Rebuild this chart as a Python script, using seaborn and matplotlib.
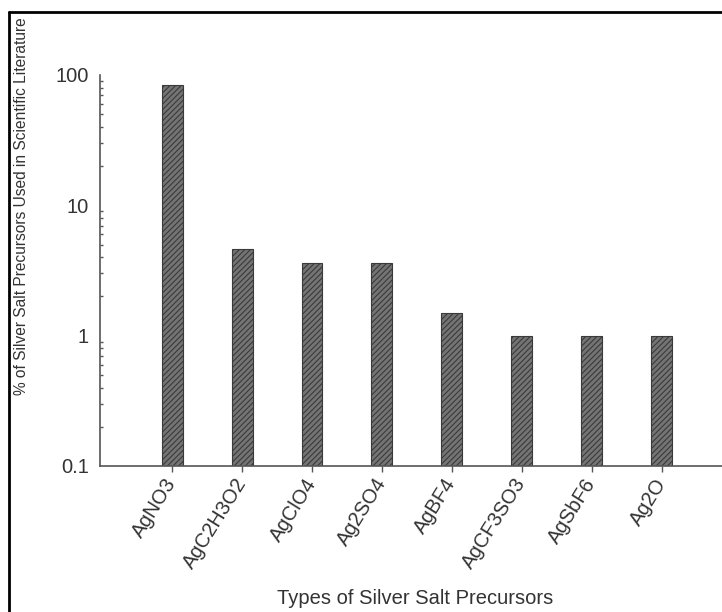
import matplotlib
matplotlib.use("Agg")
import matplotlib.pyplot as plt
import seaborn as sns
import pandas as pd
from matplotlib.lines import Line2D
from matplotlib.ticker import LogLocator, NullFormatter

precursors = ["AgNO3", "AgC2H3O2", "AgClO4", "Ag2SO4", "AgBF4", "AgCF3SO3", "AgSbF6", "Ag2O"]
percent_used = [84.0, 4.6, 3.6, 3.6, 1.5, 1.0, 1.0, 1.0]
y_ticks = [0.1, 1, 10, 100]
y_tick_labels = ["0.1", "1", "10", "100"]

sns.set_theme(style="white")
plt.rcParams["font.family"] = ["Liberation Sans", "DejaVu Sans"]
plt.rcParams["hatch.color"] = "#3a3a3a"
plt.rcParams["hatch.linewidth"] = 0.8

df = pd.DataFrame({"precursor": precursors, "percent": percent_used})

fig = plt.figure(figsize=(7.22, 6.12), dpi=100)
ax = fig.add_axes([100 / 722, 1 - 466 / 612, 1 - 100 / 722, (466 - 75) / 612])

sns.barplot(data=df, x="precursor", y="percent", ax=ax, color="#747474",
            width=0.3, edgecolor="#3a3a3a", linewidth=0.8, saturation=1)
for patch in ax.patches:
    patch.set_hatch("//////")

ax.set_yscale("log")
ax.set_ylim(0.1, 100)
ax.set_xlim(-1.03, 7.86)
ax.set_yticks(y_ticks)
ax.set_yticklabels(y_tick_labels)
ax.yaxis.set_minor_locator(LogLocator(base=10, subs=range(2, 10)))
ax.yaxis.set_minor_formatter(NullFormatter())

text_color = "#333333"
label_size = 14.5
ax.tick_params(axis="y", which="major", direction="out", length=5, width=1,
               color="#555555", labelsize=label_size, labelcolor=text_color, pad=3)
ax.tick_params(axis="y", which="minor", direction="in", length=2.5, width=1,
               color="#555555", left=True)
ax.tick_params(axis="x", which="major", direction="out", length=4, width=1,
               color="#555555", bottom=True, labelsize=label_size,
               labelcolor=text_color, pad=6)
plt.setp(ax.get_xticklabels(), rotation=58, ha="right", va="center",
         rotation_mode="anchor")

for side in ("top", "right"):
    ax.spines[side].set_visible(False)
for side in ("left", "bottom"):
    ax.spines[side].set_color("#555555")
    ax.spines[side].set_linewidth(1.2)

ax.set_xlabel("")
ax.set_ylabel("")
fig.text(415 / 722, 1 - 598 / 612, "Types of Silver Salt Precursors",
         fontsize=label_size, color=text_color, ha="center", va="center")
fig.text(22 / 722, 1 - 206 / 612,
         "% of Silver Salt Precursors Used in Scientific Literature",
         fontsize=11.2, color=text_color, rotation=90, ha="center", va="center")

# outer frame along the left and top edges
fig.add_artist(Line2D([9 / 722, 9 / 722], [0, 1 - 12 / 612], transform=fig.transFigure,
                      color="black", linewidth=2))
fig.add_artist(Line2D([9 / 722, 1], [1 - 12 / 612, 1 - 12 / 612], transform=fig.transFigure,
                      color="black", linewidth=2))

fig.savefig("out.png", dpi=100)
